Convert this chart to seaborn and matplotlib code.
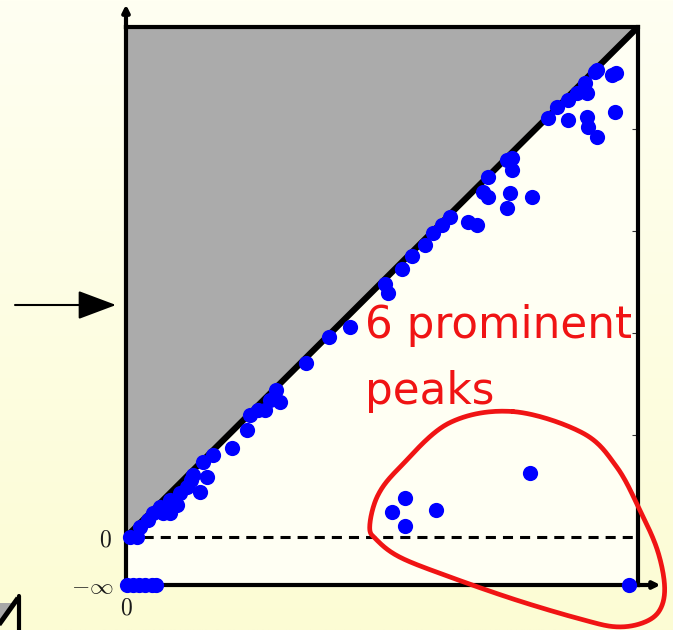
import numpy as np
import pandas as pd
import matplotlib
matplotlib.use("Agg")
import matplotlib.pyplot as plt
import matplotlib.transforms as mtransforms
from matplotlib.patches import Polygon
from matplotlib.lines import Line2D
import seaborn as sns

# Persistence pairs (birth, death) close to the diagonal
birth = [0.04, 0.11, 0.14, 0.21, 0.26, 0.36, 0.43, 0.33, 0.50, 0.43, 0.53, 0.60,
         0.63, 0.65, 0.72, 0.79, 0.75, 0.85, 1.04, 1.18, 1.21, 1.29, 1.36, 1.41,
         1.50, 1.46, 1.76, 1.98, 2.19, 2.56, 2.53, 2.70, 2.79, 2.92, 3.00, 3.09,
         3.16, 3.34, 3.43, 3.49, 3.54, 3.54, 3.72, 3.77, 3.77, 3.75, 3.72, 3.96,
         4.12, 4.21, 4.32, 4.32, 4.40, 4.48, 4.50, 4.58, 4.60, 4.50, 4.51, 4.60,
         4.75, 4.79, 4.78]
death = [0.00, 0.00, 0.10, 0.17, 0.24, 0.24, 0.24, 0.29, 0.31, 0.36, 0.43, 0.49,
         0.56, 0.61, 0.44, 0.59, 0.74, 0.80, 0.87, 1.05, 1.20, 1.25, 1.25, 1.34,
         1.32, 1.44, 1.71, 1.96, 2.06, 2.39, 2.48, 2.63, 2.76, 2.86, 2.98, 3.06,
         3.14, 3.09, 3.06, 3.38, 3.33, 3.53, 3.70, 3.72, 3.60, 3.37, 3.23, 3.33,
         4.11, 4.22, 4.28, 4.09, 4.35, 4.45, 4.35, 4.56, 4.58, 4.12, 4.02, 3.92,
         4.53, 4.55, 4.17]

# Prominent peaks far from the diagonal
peak_birth = [3.95, 2.72, 2.60, 3.03, 2.72]
peak_death = [0.63, 0.38, 0.25, 0.27, 0.11]

# Pairs that never die (death = -inf)
essential_birth = [0.01, 0.07, 0.13, 0.19, 0.25, 0.29, 4.91]

# Outline around the prominent peaks
ring_x = [3.78, 4.46, 4.79, 5.02, 5.19, 5.26, 5.21, 5.05, 4.79, 4.46, 3.82, 3.16,
          2.68, 2.45, 2.38, 2.46, 2.68, 3.16]
ring_y = [1.23, 1.02, 0.69, 0.26, -0.13, -0.49, -0.72, -0.84, -0.88, -0.81, -0.62,
          -0.39, -0.20, -0.03, 0.10, 0.41, 0.69, 1.12]

X_MAX, Y_MAX, Y_NEG_INF = 5.0, 5.0, -0.47

sns.set_style("white")
plt.rcParams["mathtext.fontset"] = "cm"
plt.rcParams["font.family"] = ["DejaVu Sans"]

W, H = 673, 630
fig = plt.figure(figsize=(W / 100, H / 100), dpi=100)
px = mtransforms.IdentityTransform()

# soft yellow page background
bg = fig.add_axes([0, 0, 1, 1], zorder=-5)
grad = np.linspace(0, 1, 256)[:, None, None]
top = np.array([255, 255, 242]) / 255
bot = np.array([252, 252, 212]) / 255
img = np.repeat(top + (bot - top) * grad, 2, axis=1)
bg.imshow(img, aspect="auto", extent=[0, 1, 0, 1])
bg.set_axis_off()

ax = fig.add_axes([126 / W, 45 / H, 512 / W, 558 / H])
ax.set_facecolor("#FFFFF3")
ax.set_xlim(0, X_MAX)
ax.set_ylim(Y_NEG_INF, Y_MAX)

# region above the diagonal
ax.fill([0, 0, X_MAX], [0, Y_MAX, Y_MAX], color="#ABABAB", lw=0, zorder=1)
ax.plot([0, X_MAX], [0, Y_MAX], color="black", lw=4.5, zorder=2,
        solid_capstyle="butt")
ax.plot([0, X_MAX], [0, 0], color="black", lw=2.2, dashes=(3.3, 2.3), zorder=2)

df = pd.DataFrame({"birth": birth + peak_birth, "death": death + peak_death})
sns.scatterplot(data=df, x="birth", y="death", color="#0000FF", s=120,
                linewidth=0, ax=ax, zorder=5, legend=False, clip_on=False)
ess = pd.DataFrame({"birth": essential_birth,
                    "death": [Y_NEG_INF] * len(essential_birth)})
sns.scatterplot(data=ess, x="birth", y="death", color="#0000FF", s=120,
                linewidth=0, ax=ax, zorder=6, legend=False, clip_on=False)

# frame and ticks
for side in ["left", "right", "top", "bottom"]:
    ax.spines[side].set_visible(True)
    ax.spines[side].set_linewidth(3.0)
    ax.spines[side].set_color("black")
    ax.spines[side].set_zorder(4)
ax.set_xticks(np.arange(0.5, 4.51, 0.5))
ax.set_yticks([1, 2, 3, 4])
ax.tick_params(axis="x", which="both", direction="in", top=True, bottom=False,
               labeltop=False, labelbottom=False, length=4, width=0.8,
               color="#333333")
ax.tick_params(axis="y", which="both", direction="in", left=True, right=True,
               labelleft=False, labelright=False, length=4, width=0.8,
               color="#333333")
ax.set_xlabel("")
ax.set_ylabel("")

# axis arrows
ax.annotate("", xy=(0, 5.22), xytext=(0, Y_MAX - 0.02), annotation_clip=False,
            arrowprops=dict(arrowstyle="-|>", lw=3, color="black",
                            mutation_scale=10, shrinkA=0, shrinkB=0))
ax.annotate("", xy=(5.22, Y_NEG_INF), xytext=(X_MAX, Y_NEG_INF),
            annotation_clip=False,
            arrowprops=dict(arrowstyle="-|>", lw=3, color="black",
                            mutation_scale=10, shrinkA=0, shrinkB=0))

# axis labels
lab_kw = dict(fontsize=17, color="#1a1a1a", va="center")
ax.annotate(r"$0$", xy=(0, 0), xytext=(-10, -2), textcoords="offset points",
            ha="right", annotation_clip=False, **lab_kw)
ax.annotate(r"$-\infty$", xy=(0, Y_NEG_INF), xytext=(-9, -1),
            textcoords="offset points", ha="right", annotation_clip=False,
            **lab_kw)
ax.annotate(r"$0$", xy=(0, Y_NEG_INF), xytext=(0, -16),
            textcoords="offset points", ha="center", annotation_clip=False,
            **lab_kw)

# annotation text
ax.text(2.33, 1.95, "6 prominent", color="#F01414", fontsize=31.4,
        va="baseline", ha="left", zorder=7)
ax.text(2.33, 1.30, "peaks", color="#F01414", fontsize=31.4,
        va="baseline", ha="left", zorder=7)

# closed smooth outline (Catmull-Rom)
P = np.column_stack([ring_x, ring_y])
N = len(P)
t = np.linspace(0, 1, 30, endpoint=False)[:, None]
segs = []
for i in range(N):
    p0, p1, p2, p3 = P[i - 1], P[i], P[(i + 1) % N], P[(i + 2) % N]
    segs.append(0.5 * (2 * p1 + (-p0 + p2) * t
                       + (2 * p0 - 5 * p1 + 4 * p2 - p3) * t ** 2
                       + (-p0 + 3 * p1 - 3 * p2 + p3) * t ** 3))
curve = np.vstack(segs + [segs[0][:1]])
ax.plot(curve[:, 0], curve[:, 1], color="#F01414", lw=3.4, zorder=8,
        clip_on=False)

# pointer arrow on the left
ax.annotate("", xy=(116, H - 305), xytext=(15, H - 305),
            xycoords="figure pixels", textcoords="figure pixels",
            annotation_clip=False,
            arrowprops=dict(arrowstyle="-|>,head_length=1.2,head_width=0.45",
                            mutation_scale=20, lw=1.5, color="black",
                            shrinkA=0, shrinkB=0))

# small thumbnail corner in the lower left
fig.add_artist(Polygon([(0, H - 603), (0, H - 621), (13, H - 603)],
                       closed=True, transform=px, fc="#A8A8A8", ec="none"))
fig.add_artist(Line2D([-2, 18], [H - 626, H - 598], transform=px,
                      color="black", lw=3.6, solid_capstyle="butt"))
fig.add_artist(Line2D([18.5, 18.5], [H - 596, -2], transform=px,
                      color="black", lw=3.0))

fig.savefig("out.png", dpi=100)
